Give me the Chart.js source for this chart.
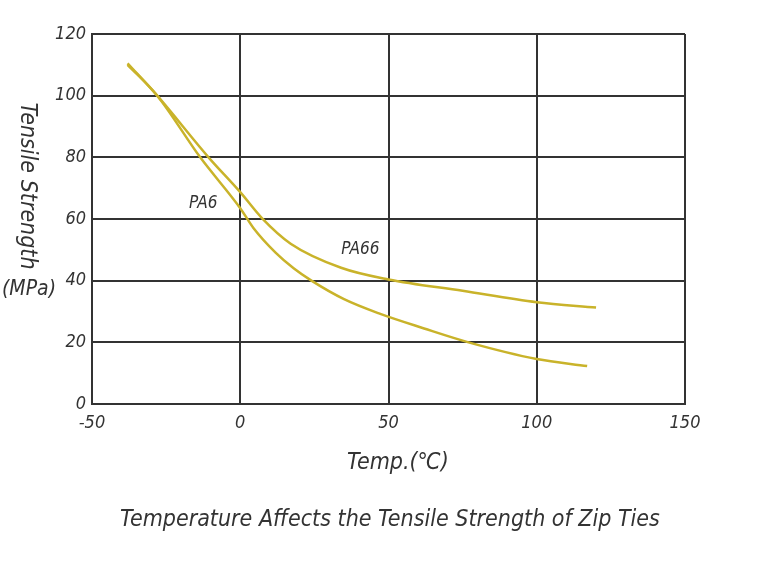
<!DOCTYPE html>
<html>
<head>
<meta charset="utf-8">
<script src="https://cdn.jsdelivr.net/npm/chart.js@4"></script>
<style>
  body { margin: 0; background: #fff; }
  #wrap { width: 768px; height: 576px; }
</style>
</head>
<body>
<div id="wrap"><canvas id="chart" width="768" height="576"></canvas></div>
<script>
// values
const pa6Temps = [-38, -28, -13.5, 0, 4.5, 12, 18, 24, 35, 47, 62, 77, 100, 117];
const pa6Strength = [110, 100, 80, 63.5, 57, 49, 44, 40, 34, 29.3, 24.5, 20, 14.6, 12.3];
const pa66Temps = [-38, -28, -10.7, 0, 7.3, 17, 34, 50, 75, 100, 120];
const pa66Strength = [110.5, 100, 80, 68.7, 60.3, 52, 44.2, 40.4, 36.7, 33, 31.3];
const xTicks = [-50, 0, 50, 100, 150];
const yTicks = [0, 20, 40, 60, 80, 100, 120];

const FONT = "'DejaVu Sans', sans-serif";
const INK = '#333333';
const GOLD = 'rgb(201, 179, 42)';

const toPoints = (xs, ys) => xs.map((x, i) => ({ x: x, y: ys[i] }));

const labels = {
  id: 'labels',
  afterDraw(chart) {
    const ctx = chart.ctx;
    const x = chart.scales.x, y = chart.scales.y;
    ctx.save();
    ctx.fillStyle = INK;
    ctx.textAlign = 'center';
    ctx.textBaseline = 'middle';

    ctx.font = 'italic condensed 17px ' + FONT;
    ctx.fillText('PA6', x.getPixelForValue(-12.5), y.getPixelForValue(65));
    ctx.fillText('PA66', x.getPixelForValue(40.5), y.getPixelForValue(50));

    ctx.font = 'italic condensed 23px ' + FONT;
    ctx.fillText('Temp.(\u2103)', 398, 463);
    ctx.fillText('Temperature Affects the Tensile Strength of Zip Ties', 390, 520);

    ctx.font = 'italic condensed 21px ' + FONT;
    ctx.fillText('(MPa)', 29, 290);

    ctx.translate(27, 186);
    ctx.rotate(Math.PI / 2);
    ctx.font = 'italic condensed 23px ' + FONT;
    ctx.fillText('Tensile Strength', 0, 0);
    ctx.restore();
  }
};

const tickFont = { family: FONT, size: 18, style: 'italic', weight: 'condensed' };

new Chart(document.getElementById('chart'), {
  type: 'scatter',
  data: {
    datasets: [
      {
        label: 'PA6',
        data: toPoints(pa6Temps, pa6Strength),
        showLine: true,
        borderColor: GOLD,
        borderWidth: 2.5,
        pointRadius: 0,
        cubicInterpolationMode: 'monotone'
      },
      {
        label: 'PA66',
        data: toPoints(pa66Temps, pa66Strength),
        showLine: true,
        borderColor: GOLD,
        borderWidth: 2.5,
        pointRadius: 0,
        cubicInterpolationMode: 'monotone'
      }
    ]
  },
  options: {
    responsive: false,
    animation: false,
    layout: { padding: { top: 34, right: 83, left: 0, bottom: 0 } },
    plugins: {
      legend: { display: false },
      tooltip: { enabled: false }
    },
    scales: {
      x: {
        type: 'linear',
        min: -50,
        max: 150,
        afterBuildTicks: s => { s.ticks = xTicks.map(v => ({ value: v })); },
        afterFit: s => { s.height = 172; },
        grid: { color: INK, lineWidth: 2, drawTicks: false },
        border: { display: true, color: INK, width: 2 },
        ticks: { color: INK, padding: 9, font: tickFont }
      },
      y: {
        min: 0,
        max: 120,
        afterBuildTicks: s => { s.ticks = yTicks.map(v => ({ value: v })); },
        afterFit: s => { s.width = 92; },
        grid: { color: INK, lineWidth: 2, drawTicks: false },
        border: { display: true, color: INK, width: 2 },
        ticks: { color: INK, padding: 6, font: tickFont }
      }
    }
  },
  plugins: [labels]
});
</script>
</body>
</html>
